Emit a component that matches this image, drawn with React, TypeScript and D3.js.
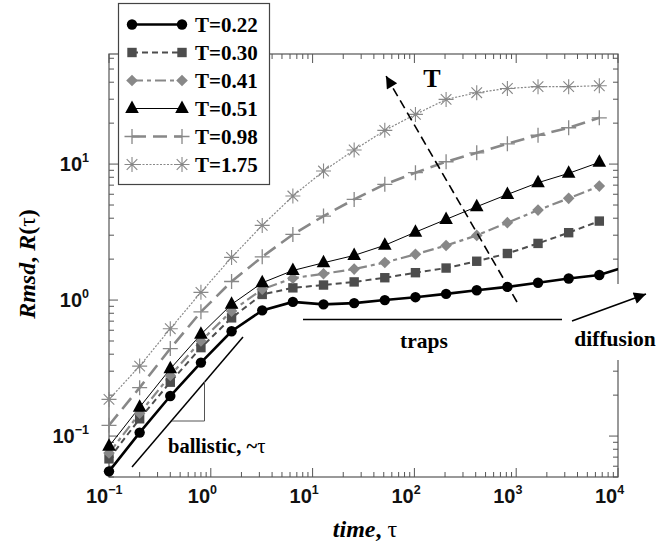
import React from 'react';
import * as d3 from 'd3';

// time lags (tau) sampled by doubling
const tau = [0.1, 0.2, 0.4, 0.8, 1.6, 3.2, 6.4, 12.8, 25.6, 51.2, 102.4, 204.8, 409.6, 819.2, 1638.4, 3276.8, 6553.6];
const tauExtra = 13107.2; // last T=0.22 sample lies past the axis end, only the line reaches it

const labels = ['T=0.22', 'T=0.30', 'T=0.41', 'T=0.51', 'T=0.98', 'T=1.75'];

const rT022 = [0.055, 0.106, 0.197, 0.347, 0.59, 0.84, 0.97, 0.93, 0.95, 1.0, 1.05, 1.11, 1.18, 1.25, 1.34, 1.44, 1.53];
const rT022Extra = 1.8;
const rT030 = [0.068, 0.134, 0.249, 0.447, 0.74, 1.1, 1.23, 1.29, 1.36, 1.46, 1.59, 1.72, 1.93, 2.2, 2.61, 3.13, 3.81];
const rT041 = [0.075, 0.147, 0.279, 0.5, 0.83, 1.2, 1.45, 1.56, 1.69, 1.89, 2.17, 2.52, 2.99, 3.71, 4.59, 5.6, 6.89];
const rT051 = [0.084, 0.163, 0.312, 0.56, 0.93, 1.34, 1.65, 1.88, 2.13, 2.53, 3.16, 3.92, 4.86, 5.98, 7.3, 8.55, 10.3];
const rT098 = [0.12, 0.227, 0.44, 0.82, 1.37, 2.08, 3.04, 4.15, 5.5, 7.1, 8.65, 10.4, 12.1, 14.1, 16.3, 18.5, 21.9];
const rT175 = [0.186, 0.327, 0.616, 1.14, 2.06, 3.54, 5.82, 8.89, 12.7, 17.7, 23.2, 29.9, 33.5, 36.0, 37.1, 37.1, 37.7];

const xTickLabels = ['-1', '0', '1', '2', '3', '4'];
const yTickLabels = ['-1', '0', '1'];

const W = 670;
const H = 541;
const L = 109, R = 618, T = 54, B = 477;

const SERIF = '"Liberation Serif", "Times New Roman", serif';
const SANS = '"Liberation Sans", Arial, sans-serif';
const GRAY = '#888';
const DARK = '#4d4d4d';

type Kind = 'circle' | 'square' | 'diamond' | 'triangle' | 'plus' | 'star';
interface Style { color: string; width: number; dash: string; kind: Kind; }

const styles: Style[] = [
  { color: '#000', width: 2.6, dash: '', kind: 'circle' },
  { color: DARK, width: 2, dash: '6,4', kind: 'square' },
  { color: GRAY, width: 2.2, dash: '11,4,4,4', kind: 'diamond' },
  { color: '#000', width: 1, dash: '', kind: 'triangle' },
  { color: GRAY, width: 2.6, dash: '14,7', kind: 'plus' },
  { color: GRAY, width: 1.2, dash: '2,1.5', kind: 'star' },
];

function Marker({ kind, cx, cy, color }: { kind: Kind; cx: number; cy: number; color: string }) {
  switch (kind) {
    case 'circle':
      return <circle cx={cx} cy={cy} r={5.2} fill={color} />;
    case 'square':
      return <rect x={cx - 4.7} y={cy - 4.7} width={9.4} height={9.4} fill={color} />;
    case 'diamond':
      return <path d={`M${cx},${cy - 5.8}L${cx + 5.8},${cy}L${cx},${cy + 5.8}L${cx - 5.8},${cy}Z`} fill={color} />;
    case 'triangle':
      return <path d={`M${cx},${cy - 8}L${cx + 6.8},${cy + 4.5}L${cx - 6.8},${cy + 4.5}Z`} fill={color} />;
    case 'plus':
      return (
        <path d={`M${cx - 7.5},${cy}H${cx + 7.5}M${cx},${cy - 7.5}V${cy + 7.5}`} stroke={color} strokeWidth={1.3} fill="none" />
      );
    case 'star': {
      const a = 7.5, d = 5.3;
      return (
        <path
          d={`M${cx - a},${cy}H${cx + a}M${cx},${cy - a}V${cy + a}M${cx - d},${cy - d}L${cx + d},${cy + d}M${cx - d},${cy + d}L${cx + d},${cy - d}`}
          stroke={color}
          strokeWidth={1.1}
          fill="none"
        />
      );
    }
  }
  return null;
}

export default function App() {
  const x = d3.scaleLog().domain([0.1, 1e4]).range([L, R]);
  const y = d3.scaleLog().domain([0.05, 64.5]).range([B, T]);

  const series = [rT022, rT030, rT041, rT051, rT098, rT175];

  const line = d3
    .line<[number, number]>()
    .x((d) => x(d[0]))
    .y((d) => y(d[1]));

  const xTicks = x.ticks();
  const yTicks = y.ticks();
  const isMajor = (v: number) => Math.abs(Math.log10(v) - Math.round(Math.log10(v))) < 1e-6;

  const legendRowY = (i: number) => 24.5 + i * 28;

  return (
    <svg width={W} height={H} style={{ position: 'absolute', left: 0, top: 0, background: '#fff' }}>
      <defs>
        <clipPath id="plot">
          <rect x={L} y={T} width={R - L} height={B - T} />
        </clipPath>
        <marker id="head" viewBox="0 0 10 10" refX="10" refY="5" markerWidth="16" markerHeight="12" markerUnits="userSpaceOnUse" orient="auto">
          <path d="M0,0L10,5L0,10Z" fill="#000" />
        </marker>
      </defs>

      {/* frame */}
      <rect x={L} y={T} width={R - L} height={B - T} fill="none" stroke="#555" strokeWidth={1.2} />

      {/* ticks on all four sides */}
      {xTicks.map((v, i) => {
        const len = isMajor(v) ? 9 : 5;
        const px = x(v);
        return (
          <g key={'xt' + i} stroke="#555" strokeWidth={1}>
            <line x1={px} x2={px} y1={B} y2={B - len} />
            <line x1={px} x2={px} y1={T} y2={T + len} />
          </g>
        );
      })}
      {yTicks.map((v, i) => {
        const len = isMajor(v) ? 9 : 5;
        const py = y(v);
        return (
          <g key={'yt' + i} stroke="#555" strokeWidth={1}>
            <line x1={L} x2={L + len} y1={py} y2={py} />
            <line x1={R} x2={R - len} y1={py} y2={py} />
          </g>
        );
      })}

      {/* tick labels */}
      {xTickLabels.map((e, i) => {
        const px = x(Math.pow(10, +e));
        return (
          <text key={'xl' + i} x={px - 23} y={503} fontFamily={SANS} fontWeight="bold" fontSize={20} fill="#111">
            10<tspan fontSize={12.5} dy={-9}>{e.replace('-', '\u2212')}</tspan>
          </text>
        );
      })}
      {yTickLabels.map((e, i) => {
        const py = y(Math.pow(10, +e));
        return (
          <text key={'yl' + i} x={89} y={py + 7} textAnchor="end" fontFamily={SANS} fontWeight="bold" fontSize={20} fill="#111">
            10<tspan fontSize={12.5} dy={-9}>{e.replace('-', '\u2212')}</tspan>
          </text>
        );
      })}

      {/* axis titles */}
      <text x={365} y={537} textAnchor="middle" fontFamily={SERIF} fontWeight="bold" fontSize={24}>
        <tspan fontStyle="italic">time</tspan>, <tspan fontWeight="normal">τ</tspan>
      </text>
      <text transform="translate(35,264) rotate(-90)" textAnchor="middle" fontFamily={SERIF} fontWeight="bold" fontSize={24}>
        <tspan fontStyle="italic">Rmsd</tspan>, <tspan fontStyle="italic">R</tspan>(<tspan fontWeight="normal">τ</tspan>)
      </text>

      {/* series lines */}
      <g clipPath="url(#plot)">
        {series.map((vals, si) => {
          const pts: [number, number][] = tau.map((t, k) => [t, vals[k]]);
          if (si === 0) pts.push([tauExtra, rT022Extra]);
          const s = styles[si];
          return (
            <path
              key={'ln' + si}
              d={line(pts) || ''}
              fill="none"
              stroke={s.color}
              strokeWidth={s.width}
              strokeDasharray={s.dash || undefined}
            />
          );
        })}
      </g>

      {/* annotations: ballistic slope, traps, diffusion, T arrow */}
      <line x1={132} y1={467} x2={243} y2={337} stroke="#000" strokeWidth={1.5} />
      <path d="M172,421H204.5V381" fill="none" stroke="#555" strokeWidth={1} />
      <text x={168} y={453} fontFamily={SERIF} fontWeight="bold" fontSize={20.5}>
        ballistic, ~<tspan fontWeight="normal">τ</tspan>
      </text>

      <line x1={303} y1={319.5} x2={562} y2={319.5} stroke="#000" strokeWidth={1.6} />
      <text x={424} y={348} textAnchor="middle" fontFamily={SERIF} fontWeight="bold" fontSize={21.5}>
        traps
      </text>

      <rect x={566} y={284} width={100} height={76} fill="#fff" />
      <line x1={572} y1={321} x2={646} y2={294} stroke="#000" strokeWidth={1.6} markerEnd="url(#head)" />
      <text x={615} y={346} textAnchor="middle" fontFamily={SERIF} fontWeight="bold" fontSize={21.5}>
        diffusion
      </text>

      {/* series markers */}
      {series.map((vals, si) => (
        <g key={'mk' + si}>
          {tau.map((t, k) => (
            <Marker key={k} kind={styles[si].kind} cx={x(t)} cy={y(vals[k])} color={styles[si].color} />
          ))}
        </g>
      ))}

      <line x1={517} y1={302} x2={386} y2={76} stroke="#000" strokeWidth={1.6} strokeDasharray="9,5" markerEnd="url(#head)" />
      <text x={432} y={87} textAnchor="middle" fontFamily={SERIF} fontWeight="bold" fontSize={26}>
        T
      </text>

      {/* legend */}
      <rect x={118.5} y={3.5} width={151} height={181} fill="#fff" stroke="#444" strokeWidth={1.2} />
      {labels.map((lab, i) => {
        const s = styles[i];
        const ly = legendRowY(i);
        return (
          <g key={'lg' + i}>
            <line x1={132} x2={182} y1={ly} y2={ly} stroke={s.color} strokeWidth={s.width} strokeDasharray={s.dash || undefined} />
            <Marker kind={s.kind} cx={132} cy={ly} color={s.color} />
            <Marker kind={s.kind} cx={182} cy={ly} color={s.color} />
            <text x={195} y={ly + 7.5} fontFamily={SERIF} fontWeight="bold" fontSize={21}>
              {lab}
            </text>
          </g>
        );
      })}
    </svg>
  );
}
